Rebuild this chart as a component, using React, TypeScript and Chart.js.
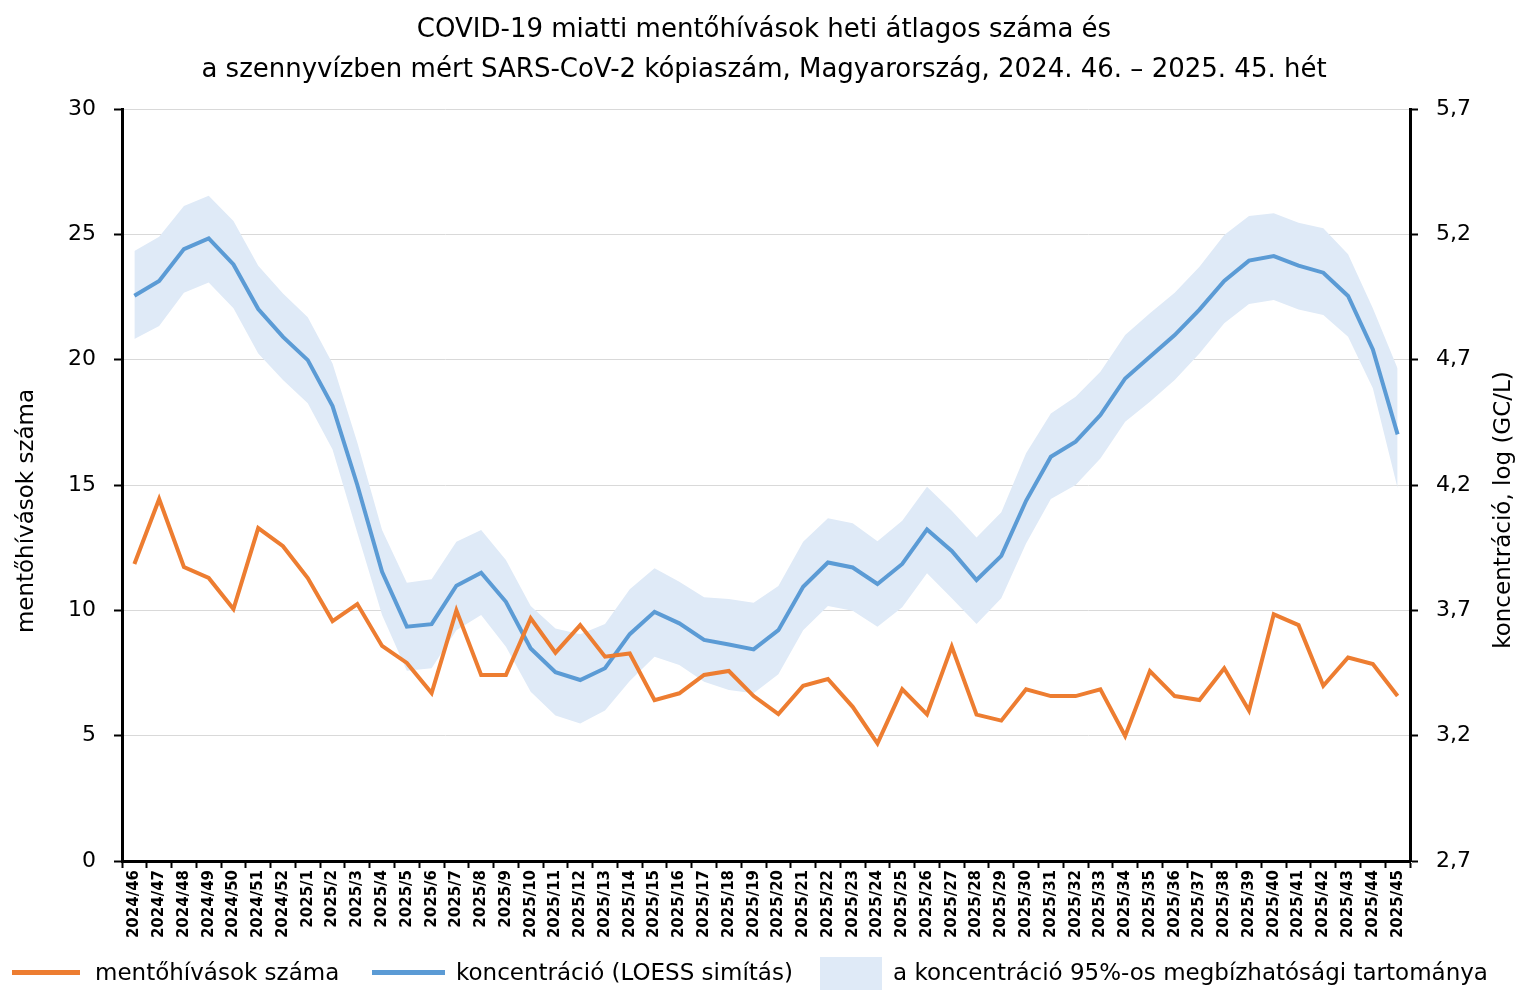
import React, { useEffect, useRef } from "react";
import { Chart, registerables } from "chart.js";

Chart.register(...registerables);

// Weekly categories (ISO year/week)
const WEEKS = [
  "2024/46", "2024/47", "2024/48", "2024/49", "2024/50", "2024/51", "2024/52",
  "2025/1", "2025/2", "2025/3", "2025/4", "2025/5", "2025/6", "2025/7", "2025/8",
  "2025/9", "2025/10", "2025/11", "2025/12", "2025/13", "2025/14", "2025/15",
  "2025/16", "2025/17", "2025/18", "2025/19", "2025/20", "2025/21", "2025/22",
  "2025/23", "2025/24", "2025/25", "2025/26", "2025/27", "2025/28", "2025/29",
  "2025/30", "2025/31", "2025/32", "2025/33", "2025/34", "2025/35", "2025/36",
  "2025/37", "2025/38", "2025/39", "2025/40", "2025/41", "2025/42", "2025/43",
  "2025/44", "2025/45",
];

// Average weekly number of COVID-19 ambulance calls
const CALLS = [
  11.85, 14.44, 11.73, 11.29, 10.05, 13.28, 12.56, 11.29, 9.57, 10.25, 8.58,
  7.9, 6.7, 10.0, 7.42, 7.42, 9.68, 8.31, 9.41, 8.15, 8.28, 6.42, 6.69, 7.42,
  7.58, 6.58, 5.86, 6.99, 7.26, 6.15, 4.69, 6.85, 5.85, 8.55, 5.84, 5.6, 6.85,
  6.58, 6.58, 6.85, 4.99, 7.58, 6.58, 6.42, 7.69, 6.0, 9.84, 9.41, 6.99, 8.12,
  7.86, 6.58,
];

// SARS-CoV-2 concentration in wastewater, log(GC/L), LOESS smoothed
const CONC = [
  4.955, 5.014, 5.141, 5.184, 5.08, 4.902, 4.791, 4.698, 4.515, 4.2, 3.854,
  3.635, 3.645, 3.798, 3.85, 3.734, 3.548, 3.453, 3.422, 3.469, 3.605, 3.694,
  3.648, 3.582, 3.564, 3.544, 3.621, 3.794, 3.891, 3.871, 3.805, 3.885, 4.023,
  3.937, 3.821, 3.917, 4.137, 4.313, 4.373, 4.479, 4.625, 4.712, 4.798, 4.9,
  5.014, 5.095, 5.113, 5.075, 5.047, 4.954, 4.741, 4.402,
];

// 95% confidence band of the concentration
const CONC_UPPER = [
  5.134, 5.19, 5.313, 5.354, 5.253, 5.075, 4.964, 4.869, 4.685, 4.37, 4.02,
  3.81, 3.824, 3.974, 4.02, 3.901, 3.717, 3.628, 3.605, 3.645, 3.784, 3.868,
  3.814, 3.752, 3.745, 3.73, 3.797, 3.974, 4.067, 4.047, 3.976, 4.057, 4.193,
  4.097, 3.991, 4.091, 4.327, 4.485, 4.552, 4.652, 4.798, 4.885, 4.967, 5.071,
  5.197, 5.273, 5.284, 5.246, 5.224, 5.121, 4.905, 4.665,
];
const CONC_LOWER = [
  4.782, 4.834, 4.967, 5.008, 4.905, 4.725, 4.619, 4.526, 4.342, 4.01, 3.681,
  3.459, 3.469, 3.621, 3.681, 3.555, 3.375, 3.28, 3.249, 3.3, 3.418, 3.515,
  3.482, 3.415, 3.382, 3.369, 3.445, 3.621, 3.717, 3.698, 3.635, 3.712, 3.848,
  3.748, 3.645, 3.748, 3.967, 4.144, 4.2, 4.306, 4.452, 4.532, 4.619, 4.725,
  4.845, 4.922, 4.938, 4.9, 4.878, 4.791, 4.586, 4.187,
];

const LEFT_TICKS = [0, 5, 10, 15, 20, 25, 30];
const RIGHT_TICKS = [2.7, 3.2, 3.7, 4.2, 4.7, 5.2, 5.7];

const TITLE_LINES = [
  "COVID-19 miatti mentőhívások heti átlagos száma és",
  "a szennyvízben mért SARS-CoV-2 kópiaszám, Magyarország, 2024. 46. – 2025. 45. hét",
];
const LEFT_TITLE = "mentőhívások száma";
const RIGHT_TITLE = "koncentráció, log (GC/L)";
const LEGEND_CALLS = "mentőhívások száma";
const LEGEND_CONC = "koncentráció (LOESS simítás)";
const LEGEND_BAND = "a koncentráció 95%-os megbízhatósági tartománya";

const FONT = "'DejaVu Sans', sans-serif";
const ORANGE = "#ED7D31";
const BLUE = "#5B9BD5";
const BAND = "#DFEAF7";

// Draws the two-line title and the vertical axis titles
const textPlugin = {
  id: "textPlugin",
  afterDraw(chart: any) {
    const ctx = chart.ctx;
    ctx.save();
    ctx.fillStyle = "#000";
    ctx.textAlign = "center";
    ctx.textBaseline = "middle";
    ctx.font = `26px ${FONT}`;
    ctx.fillText(TITLE_LINES[0], 764, 30);
    ctx.fillText(TITLE_LINES[1], 764, 70);

    ctx.font = `23px ${FONT}`;
    ctx.save();
    ctx.translate(27, 511);
    ctx.rotate(-Math.PI / 2);
    ctx.fillText(LEFT_TITLE, 0, 0);
    ctx.restore();
    ctx.save();
    ctx.translate(1504, 510);
    ctx.rotate(-Math.PI / 2);
    ctx.fillText(RIGHT_TITLE, 0, 0);
    ctx.restore();
    ctx.restore();
  },
};

export default function App() {
  const canvasRef = useRef<HTMLCanvasElement | null>(null);

  useEffect(() => {
    if (!canvasRef.current) return;
    const chart = new Chart(canvasRef.current, {
      type: "line",
      data: {
        labels: WEEKS,
        datasets: [
          {
            label: "lower",
            data: CONC_LOWER,
            yAxisID: "y1",
            order: 4,
            borderWidth: 0,
            borderColor: "rgba(0,0,0,0)",
            pointRadius: 0,
            fill: false,
          },
          {
            label: LEGEND_BAND,
            data: CONC_UPPER,
            yAxisID: "y1",
            order: 3,
            borderWidth: 0,
            borderColor: "rgba(0,0,0,0)",
            backgroundColor: BAND,
            pointRadius: 0,
            fill: "-1",
          },
          {
            label: LEGEND_CONC,
            data: CONC,
            yAxisID: "y1",
            order: 2,
            borderColor: BLUE,
            borderWidth: 4,
            pointRadius: 0,
            fill: false,
          },
          {
            label: LEGEND_CALLS,
            data: CALLS,
            yAxisID: "y",
            order: 1,
            borderColor: ORANGE,
            borderWidth: 4,
            pointRadius: 0,
            fill: false,
          },
        ],
      },
      options: {
        responsive: false,
        animation: false,
        layout: { padding: { top: 109, left: 0, right: 0, bottom: 0 } },
        plugins: {
          legend: { display: false },
          title: { display: false },
          tooltip: { enabled: false },
        },
        scales: {
          x: {
            type: "category",
            offset: true,
            grid: {
              offset: true,
              drawOnChartArea: false,
              drawTicks: true,
              tickLength: 7,
              tickColor: "#000",
              tickWidth: 2,
            },
            border: { color: "#000", width: 3 },
            ticks: {
              autoSkip: false,
              maxRotation: 90,
              minRotation: 90,
              color: "#000",
              padding: 2,
              font: { family: FONT, size: 15, weight: "bold" },
            },
            afterFit(scale: any) {
              scale.height = 136;
            },
          },
          y: {
            position: "left",
            min: 0,
            max: 30,
            afterBuildTicks(scale: any) {
              scale.ticks = LEFT_TICKS.map((v) => ({ value: v }));
            },
            grid: {
              color: "#D9D9D9",
              lineWidth: 1,
              tickColor: "#000",
              tickLength: 8,
              tickWidth: 2,
            },
            border: { color: "#000", width: 3 },
            ticks: {
              color: "#000",
              padding: 18,
              font: { family: FONT, size: 22 },
            },
            afterFit(scale: any) {
              scale.width = 122;
            },
          },
          y1: {
            position: "right",
            min: 2.7,
            max: 5.7,
            afterBuildTicks(scale: any) {
              scale.ticks = RIGHT_TICKS.map((v) => ({ value: v }));
            },
            grid: {
              drawOnChartArea: false,
              tickColor: "#000",
              tickLength: 8,
              tickWidth: 2,
            },
            border: { color: "#000", width: 3 },
            ticks: {
              color: "#000",
              padding: 18,
              font: { family: FONT, size: 22 },
              callback: (v: any) => Number(v).toFixed(1).replace(".", ","),
            },
            afterFit(scale: any) {
              scale.width = 116;
            },
          },
        },
      },
      plugins: [textPlugin],
    });
    return () => chart.destroy();
  }, []);

  const legendText: React.CSSProperties = {
    position: "absolute",
    top: 972,
    transform: "translateY(-50%)",
    fontFamily: FONT,
    fontSize: 23,
    color: "#000",
    whiteSpace: "nowrap",
    lineHeight: 1,
  };

  return (
    <div
      style={{
        position: "fixed",
        left: 0,
        top: 0,
        width: 1526,
        height: 997,
        background: "#fff",
      }}
    >
      <canvas
        ref={canvasRef}
        width={1526}
        height={997}
        style={{ display: "block", width: 1526, height: 997 }}
      />
      <div style={{ position: "absolute", left: 12, top: 970, width: 68, height: 5, background: ORANGE }} />
      <span style={{ ...legendText, left: 95 }}>{LEGEND_CALLS}</span>
      <div style={{ position: "absolute", left: 372, top: 970, width: 73, height: 5, background: BLUE }} />
      <span style={{ ...legendText, left: 456 }}>{LEGEND_CONC}</span>
      <div style={{ position: "absolute", left: 820, top: 957, width: 62, height: 33, background: BAND }} />
      <span style={{ ...legendText, left: 893 }}>{LEGEND_BAND}</span>
    </div>
  );
}
